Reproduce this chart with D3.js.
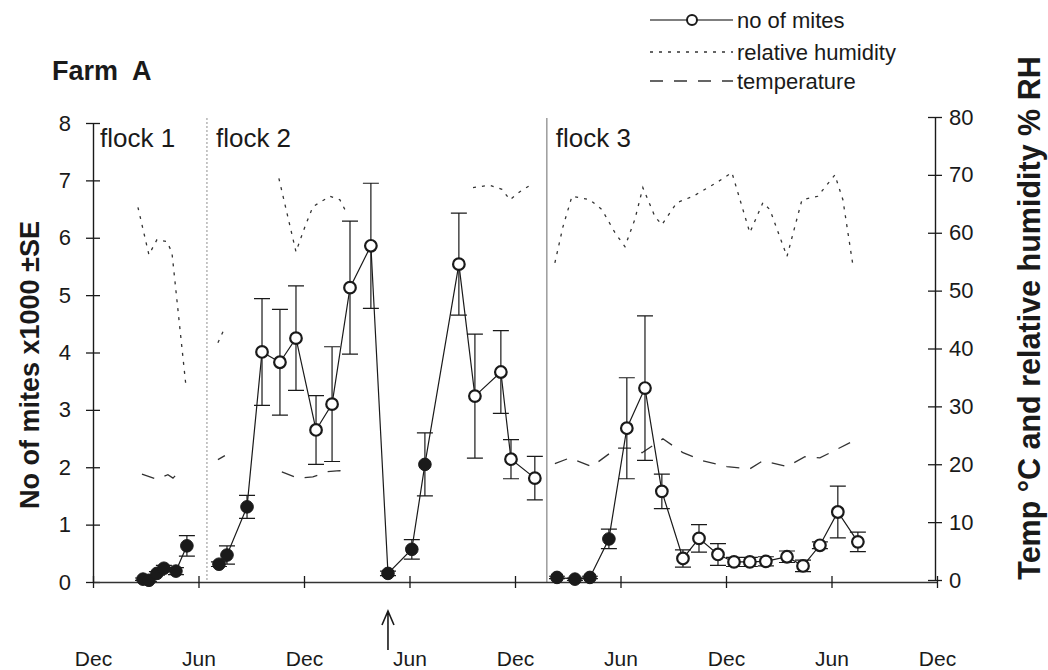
<!DOCTYPE html>
<html>
<head>
<meta charset="utf-8">
<script src="https://cdn.jsdelivr.net/npm/d3@7"></script>
<style>
  body { margin: 0; background: #fff; }
  svg { display: block; font-family: "Liberation Sans", Arial, Helvetica, sans-serif; }
</style>
</head>
<body>
<svg id="chart" width="1048" height="670"></svg>
<script>
// time is in decimal years (Dec 1990 .. Dec 1994)
const xTickValues = [1990.917, 1991.417, 1991.917, 1992.417, 1992.917, 1993.417, 1993.917, 1994.417, 1994.917];
const xTickLabels = ["Dec", "Jun", "Dec", "Jun", "Dec", "Jun", "Dec", "Jun", "Dec"];

const flockNames = ["flock 1", "flock 2", "flock 3"];
const flockStarts = [1990.917, 1991.457, 1993.068];

// mites (x1000), mean and SE, per sampling date
const mitesDate = [
  1991.154, 1991.182, 1991.220, 1991.253, 1991.310, 1991.362,
  1991.514, 1991.552, 1991.647, 1991.718, 1991.803, 1991.879, 1991.974, 1992.050, 1992.135,
  1992.234, 1992.315, 1992.428, 1992.490, 1992.651, 1992.727, 1992.850, 1992.898, 1993.011,
  1993.116, 1993.201, 1993.272, 1993.362, 1993.447, 1993.533, 1993.613, 1993.713, 1993.789,
  1993.879, 1993.955, 1994.030, 1994.106, 1994.206, 1994.282, 1994.362, 1994.447, 1994.542
];
const mitesMean = [
  0.05, 0.03, 0.15, 0.24, 0.19, 0.63,
  0.31, 0.47, 1.31, 4.01, 3.83, 4.25, 2.65, 3.10, 5.13,
  5.86, 0.15, 0.57, 2.05, 5.54, 3.24, 3.66, 2.14, 1.81,
  0.08, 0.05, 0.08, 0.75, 2.68, 3.38, 1.58, 0.41, 0.76,
  0.48, 0.35, 0.35, 0.36, 0.44, 0.28, 0.64, 1.22, 0.70
];
const mitesSE = [
  0.02, 0.02, 0.03, 0.05, 0.06, 0.18,
  0.04, 0.16, 0.20, 0.93, 0.92, 0.91, 0.60, 1.00, 1.16,
  1.09, 0.04, 0.17, 0.55, 0.89, 1.08, 0.72, 0.34, 0.38,
  0.02, 0.02, 0.02, 0.17, 0.88, 1.26, 0.30, 0.15, 0.24,
  0.19, 0.08, 0.08, 0.08, 0.10, 0.10, 0.06, 0.45, 0.17
];
const mitesFlock = [
  1, 1, 1, 1, 1, 1,
  2, 2, 2, 2, 2, 2, 2, 2, 2,
  2, 2, 2, 2, 2, 2, 2, 2, 2,
  3, 3, 3, 3, 3, 3, 3, 3, 3,
  3, 3, 3, 3, 3, 3, 3, 3, 3
];
const mitesOpen = [
  0, 0, 0, 0, 0, 0,
  0, 0, 0, 1, 1, 1, 1, 1, 1,
  1, 0, 0, 0, 1, 1, 1, 1, 1,
  0, 0, 0, 0, 1, 1, 1, 1, 1,
  1, 1, 1, 1, 1, 1, 1, 1, 1
];
const arrowAt = 1992.315;

// relative humidity % (null = gap)
const rhDate = [
  1991.130, 1991.182, 1991.220, 1991.267, 1991.291, 1991.357, null,
  1991.509, 1991.542, null,
  1991.798, 1991.879, 1991.921, 1991.959, 1992.040, 1992.087, 1992.111, null,
  1992.718, 1992.798, 1992.855, 1992.893, 1992.940, 1993.002, null,
  1993.106, 1993.144, 1993.187, 1993.272, 1993.329, 1993.391, 1993.438, 1993.485, 1993.523,
  1993.580, 1993.613, 1993.684, 1993.761, 1993.874, 1993.945, 1994.030, 1994.092, 1994.125,
  1994.206, 1994.277, 1994.352, 1994.433, 1994.471, 1994.518
];
const rhValue = [
  64.4, 56.2, 58.8, 58.5, 56.6, 33.7, null,
  41.0, 43.6, null,
  69.4, 56.7, 61.0, 64.5, 66.3, 65.7, 64.0, null,
  67.8, 68.2, 67.5, 65.7, 67.1, 68.5, null,
  54.8, 61.0, 66.3, 65.7, 64.0, 60.0, 57.6, 62.3, 67.8,
  62.8, 61.4, 65.2, 66.3, 68.7, 70.4, 60.0, 65.2, 64.0,
  55.9, 65.7, 66.3, 70.0, 65.7, 54.5
];

// temperature °C (null = gap)
const tempDate = [
  1991.149, 1991.220, 1991.272, 1991.296, 1991.338, null,
  1991.509, 1991.542, null,
  1991.812, 1991.888, 1991.959, 1992.026, 1992.087, 1992.135, null,
  1993.106, 1993.177, 1993.281, 1993.400, 1993.462, 1993.519, 1993.618, 1993.713,
  1993.808, 1993.921, 1994.030, 1994.092, 1994.206, 1994.291, 1994.362, 1994.514
];
const tempValue = [
  18.3, 17.4, 18.2, 17.6, 19.2, null,
  20.8, 21.5, null,
  18.7, 17.6, 17.8, 18.7, 18.9, 18.3, null,
  20.1, 21.1, 19.6, 22.8, 22.8, 22.0, 24.4, 22.0,
  20.6, 19.6, 19.2, 20.6, 19.6, 21.3, 21.1, 23.9
];

const svg = d3.select("#chart");
const ink = "#1a1a1a";

const x = d3.scaleLinear().domain([1990.917, 1994.917]).range([93, 937]);
const yL = d3.scaleLinear().domain([0, 8]).range([582, 123]);
const yR = d3.scaleLinear().domain([0, 80]).range([580, 117]);

const mites = mitesDate.map((d, i) => ({
  t: d, m: mitesMean[i], se: mitesSE[i], flock: mitesFlock[i], open: mitesOpen[i] === 1
}));
const rh = rhDate.map((d, i) => ({ t: d, v: rhValue[i] }));
const temp = tempDate.map((d, i) => ({ t: d, v: tempValue[i] }));

// flock separators + labels
svg.append("g").selectAll("line")
  .data(flockStarts.slice(1))
  .join("line")
    .attr("x1", d => x(d)).attr("x2", d => x(d))
    .attr("y1", 118).attr("y2", yL(0))
    .attr("stroke", (d, i) => i === 0 ? "#9a9a9a" : "#777")
    .attr("stroke-width", 1.1)
    .attr("stroke-dasharray", (d, i) => i === 0 ? "2,2" : null);

svg.append("g").selectAll("text")
  .data(flockNames)
  .join("text")
    .attr("x", (d, i) => x(flockStarts[i]) + (i === 0 ? 7 : 9))
    .attr("y", 147)
    .attr("font-size", 26)
    .attr("fill", ink)
    .text(d => d);

// axes
svg.append("g")
    .attr("transform", `translate(${x.range()[0]},0)`)
    .call(d3.axisLeft(yL).ticks(8).tickSize(7).tickSizeOuter(0).tickPadding(15))
    .call(g => g.attr("font-family", null).attr("font-size", 22))
    .call(g => g.select(".domain").attr("stroke", ink).attr("stroke-width", 1.4))
    .call(g => g.selectAll(".tick line").attr("x1", 7).attr("stroke", ink).attr("stroke-width", 1.3))
    .call(g => g.selectAll(".tick text").attr("fill", ink));

svg.append("g")
    .attr("transform", `translate(935,0)`)
    .call(d3.axisRight(yR).ticks(8).tickSize(7).tickSizeOuter(0).tickPadding(7))
    .call(g => g.attr("font-family", null).attr("font-size", 22))
    .call(g => g.select(".domain").attr("stroke", ink).attr("stroke-width", 1.4))
    .call(g => g.selectAll(".tick line").attr("x1", -7).attr("stroke", ink).attr("stroke-width", 1.3))
    .call(g => g.selectAll(".tick text").attr("fill", ink));

svg.append("g")
    .attr("transform", `translate(0,${yL(0)})`)
    .call(d3.axisBottom(x).tickValues(xTickValues).tickFormat((d, i) => xTickLabels[i])
      .tickSize(6).tickSizeOuter(0).tickPadding(63))
    .call(g => g.attr("font-family", null).attr("font-size", 21))
    .call(g => g.select(".domain").attr("stroke", "#333").attr("stroke-width", 1.6))
    .call(g => g.selectAll(".tick line").attr("y1", -6).attr("stroke", ink).attr("stroke-width", 1.3))
    .call(g => g.selectAll(".tick text").attr("fill", ink));

// humidity and temperature lines
const envLine = d3.line()
  .defined(d => d.v != null)
  .x(d => x(d.t))
  .y(d => yR(d.v));

svg.append("path")
    .attr("d", envLine(rh))
    .attr("fill", "none")
    .attr("stroke", "#333")
    .attr("stroke-width", 1.3)
    .attr("stroke-dasharray", "3,6");

svg.append("path")
    .attr("d", envLine(temp))
    .attr("fill", "none")
    .attr("stroke", "#333")
    .attr("stroke-width", 1.3)
    .attr("stroke-dasharray", "13,11");

// mites
const mitesLine = d3.line().x(d => x(d.t)).y(d => yL(d.m));
const byFlock = d3.groups(mites, d => d.flock);

svg.append("g").selectAll("path")
  .data(byFlock)
  .join("path")
    .attr("d", ([, pts]) => mitesLine(pts))
    .attr("fill", "none")
    .attr("stroke", ink)
    .attr("stroke-width", 1.2);

const err = svg.append("g").attr("stroke", ink).attr("stroke-width", 1.2);
err.selectAll(".bar")
  .data(mites)
  .join("path")
    .attr("class", "bar")
    .attr("fill", "none")
    .attr("d", d => {
      const cx = x(d.t), top = yL(d.m + d.se), bot = yL(Math.max(0, d.m - d.se)), w = 8;
      return `M${cx},${top}V${bot}M${cx - w},${top}H${cx + w}M${cx - w},${bot}H${cx + w}`;
    });

svg.append("g").selectAll("circle")
  .data(mites)
  .join("circle")
    .attr("cx", d => x(d.t))
    .attr("cy", d => yL(d.m))
    .attr("r", d => d.open ? 5.8 : 6.3)
    .attr("fill", d => d.open ? "#fff" : ink)
    .attr("stroke", ink)
    .attr("stroke-width", d => d.open ? 2.2 : 1);

// arrow under the axis
const ax = x(arrowAt);
svg.append("path")
    .attr("d", `M${ax},650V612M${ax - 6},625L${ax},611L${ax + 6},625`)
    .attr("fill", "none")
    .attr("stroke", ink)
    .attr("stroke-width", 1.6);

// titles
svg.append("text")
    .attr("x", 52).attr("y", 80)
    .attr("font-size", 27).attr("font-weight", "bold")
    .attr("fill", ink)
    .style("white-space", "pre")
    .text("Farm  A");

svg.append("text")
    .attr("transform", "translate(39,365) rotate(-90)")
    .attr("text-anchor", "middle")
    .attr("font-size", 27).attr("font-weight", "bold")
    .attr("fill", ink)
    .text("No of mites x1000 ±SE");

svg.append("text")
    .attr("transform", "translate(1040,318) rotate(-90)")
    .attr("text-anchor", "middle")
    .attr("font-size", 30.5).attr("font-weight", "bold")
    .attr("fill", ink)
    .text("Temp °C and relative humidity % RH");

// legend
const legendNames = ["no of mites", "relative humidity", "temperature"];
const legendDash = [null, "3,6", "13,11"];
const legend = svg.append("g");
legendNames.forEach((name, i) => {
  const ly = [20, 52, 81][i];
  legend.append("line")
      .attr("x1", 650).attr("x2", 733).attr("y1", ly).attr("y2", ly)
      .attr("stroke", i === 0 ? "#555" : "#333")
      .attr("stroke-width", 1.3)
      .attr("stroke-dasharray", legendDash[i]);
  if (i === 0) {
    legend.append("circle")
        .attr("cx", 692).attr("cy", ly).attr("r", 5)
        .attr("fill", "#fff").attr("stroke", ink).attr("stroke-width", 2);
  }
  legend.append("text")
      .attr("x", 737).attr("y", ly)
      .attr("dy", "0.35em")
      .attr("font-size", 22)
      .attr("fill", ink)
      .text(name);
});
</script>
</body>
</html>
